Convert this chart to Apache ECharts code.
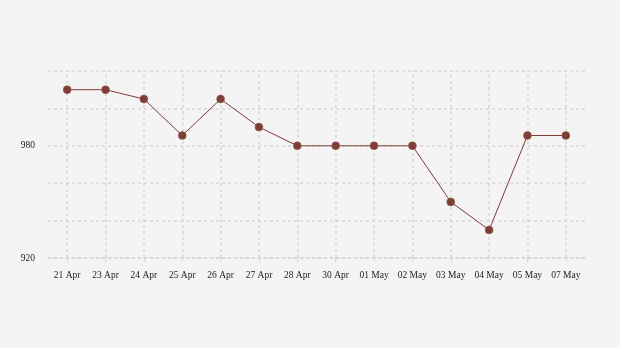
<!DOCTYPE html>
<html><head><meta charset="utf-8">
<script src="https://cdn.jsdelivr.net/npm/echarts@6/dist/echarts.min.js"></script>
<style>html,body{margin:0;padding:0;background:#f4f4f4;}#c{width:620px;height:348px;}</style>
</head><body><div id="c"></div>
<script>
const categories = ['21 Apr','23 Apr','24 Apr','25 Apr','26 Apr','27 Apr','28 Apr','30 Apr','01 May','02 May','03 May','04 May','05 May','07 May'];
const values = [1010,1010,1005,985.5,1005,990,980,980,980,980,950,935,985.5,985.5];
const yMin = 920, yMax = 1020, yStep = 20, labelStep = 60;

const chart = echarts.init(document.getElementById('c'));
const font = "'Liberation Serif', 'DejaVu Serif', serif";
chart.setOption({
  backgroundColor: '#f4f4f4',
  animation: false,
  grid: {left: 48, right: 35, top: 71, bottom: 90},
  xAxis: {
    type: 'category', data: categories, boundaryGap: true,
    axisLine: {show: true, lineStyle: {color: '#d6d6d6', type: [3,3], width: 1.5}},
    axisTick: {show: true, alignWithLabel: true, length: 4, lineStyle: {color: '#d6d6d6'}},
    axisLabel: {color: '#222', fontFamily: font, fontSize: 9.5, margin: 12, interval: 0},
    splitLine: {show: false}
  },
  yAxis: {
    type: 'value', min: yMin, max: yMax, interval: yStep,
    axisLine: {show: false}, axisTick: {show: false},
    axisLabel: {color: '#222', fontFamily: font, fontSize: 9.5, margin: 13,
      formatter: v => ((v - yMin) % labelStep === 0 ? String(v) : '')},
    splitLine: {show: true, lineStyle: {color: '#d6d6d6', type: [3,3], width: 1.5}}
  },
  series: [{
    type: 'line', data: values,
    symbol: 'circle', symbolSize: 8,
    lineStyle: {color: '#7d3e35', width: 1},
    itemStyle: {color: '#7d3e35', borderColor: '#a0665e', borderWidth: 0.5},
    z: 5,
    markLine: {
      silent: true, symbol: 'none', label: {show: false},
      lineStyle: {color: '#d6d6d6', type: [3,3], width: 1.5},
      data: categories.map(c => ({xAxis: c})),
      z: 1
    }
  }]
});
</script></body></html>
